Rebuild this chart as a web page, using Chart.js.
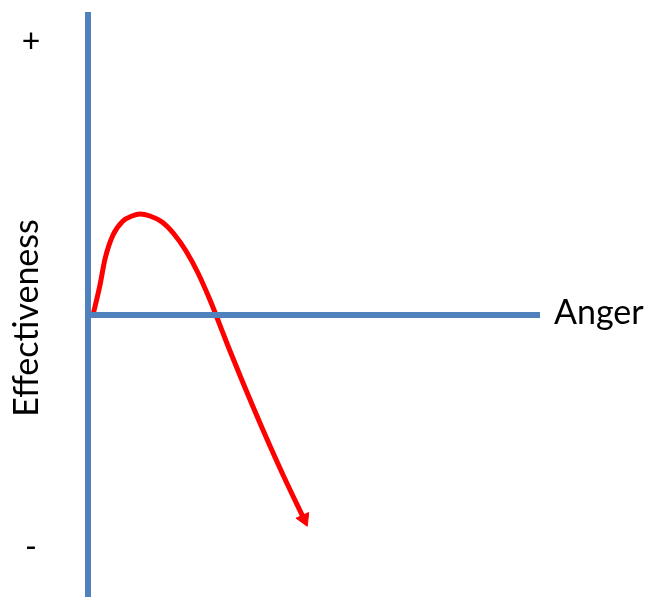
<!DOCTYPE html>
<html>
<head>
<meta charset="utf-8">
<script src="https://cdn.jsdelivr.net/npm/chart.js@4.4.1/dist/chart.umd.min.js"></script>
<style>
  html, body { margin: 0; padding: 0; background: #fff; }
  #wrap { width: 646px; height: 597px; }
</style>
</head>
<body>
<div id="wrap"><canvas id="effChart" width="646" height="597"></canvas></div>
<script>
// * data (x = anger, y = effectiveness), origin where the axes cross
const curveX = [5, 12, 17, 25, 35, 44, 52, 62, 74, 86, 98, 110, 122, 128, 140, 153, 175, 196, 216];
const curveY = [0, 30, 56, 80, 94, 99, 101, 99, 93, 81, 64, 42, 15, 0, -31, -63, -115, -162, -204];
const xAxisLine = [[-2, 0], [452, 0]];
const yAxisLine = [[0, 303], [0, -282]];
const tickLabels = ["+", "-"];
const tickValues = [273, -233];
const xTitle = "Anger";
const yTitle = "Effectiveness";

const blue = "#4f81bd";
const red = "#ff0000";
const font = "Lato, 'Open Sans', sans-serif";

const curve = curveX.map((x, i) => ({ x: x, y: curveY[i] }));
const toPts = (arr) => arr.map((p) => ({ x: p[0], y: p[1] }));

// ? labels drawn on top, placed through the scales
const labelPlugin = {
  id: "labels",
  afterDraw(chart) {
    const ctx = chart.ctx;
    const xs = chart.scales.x;
    const ys = chart.scales.y;
    ctx.save();
    ctx.fillStyle = "#000";
    ctx.textBaseline = "middle";
    ctx.font = "34px " + font;
    ctx.textAlign = "left";
    ctx.fillText(xTitle, xs.getPixelForValue(466), ys.getPixelForValue(2));
    ctx.textAlign = "center";
    ctx.font = "32px " + font;
    tickLabels.forEach((t, i) => {
      ctx.fillText(t, xs.getPixelForValue(-57), ys.getPixelForValue(tickValues[i]));
    });
    ctx.font = "34px " + font;
    ctx.translate(xs.getPixelForValue(-61), ys.getPixelForValue(-3));
    ctx.rotate(-Math.PI / 2);
    ctx.fillText(yTitle, 0, 0);
    ctx.restore();
  },
};

const ctx = document.getElementById("effChart").getContext("2d");
const effChart = new Chart(ctx, {
  type: "scatter",
  data: {
    datasets: [
      {
        data: toPts(yAxisLine),
        showLine: true,
        borderColor: blue,
        borderWidth: 6,
        pointRadius: 0,
        borderCapStyle: "butt",
      },
      {
        data: toPts(xAxisLine),
        showLine: true,
        borderColor: blue,
        borderWidth: 6,
        pointRadius: 0,
        borderCapStyle: "butt",
      },
      {
        data: curve,
        showLine: true,
        borderColor: red,
        borderWidth: 5,
        cubicInterpolationMode: "monotone",
        borderCapStyle: "round",
        borderJoinStyle: "round",
        pointRadius: curve.map((p, i) => (i === curve.length - 1 ? 8 : 0)),
        pointStyle: "triangle",
        pointRotation: 156,
        pointBackgroundColor: red,
        pointBorderColor: red,
        pointBorderWidth: 1,
      },
    ],
  },
  options: {
    responsive: false,
    animation: false,
    layout: { padding: 0, autoPadding: false },
    plugins: {
      legend: { display: false },
      tooltip: { enabled: false },
    },
    scales: {
      x: { type: "linear", display: false, min: -88, max: 558 },
      y: { type: "linear", display: false, min: -282, max: 315 },
    },
  },
  plugins: [labelPlugin],
});
</script>
</body>
</html>
